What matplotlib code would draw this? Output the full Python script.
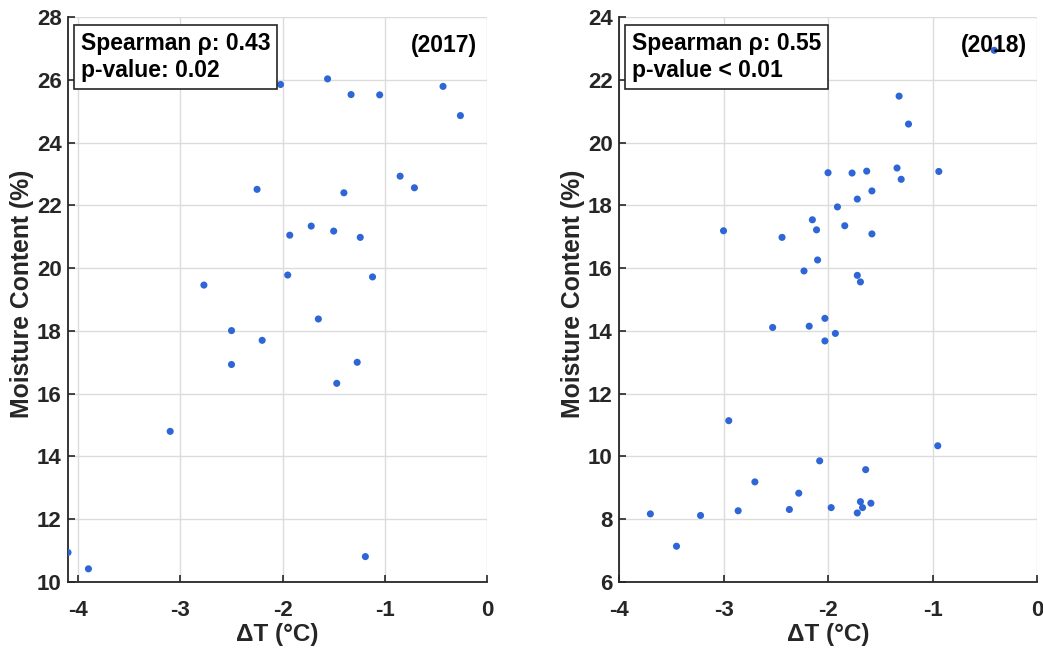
import numpy as np
import matplotlib.pyplot as plt

# 2017 panel
dt_2017 = [-2.02, -1.56, -1.33, -1.05, -0.43, -0.26, -0.85, -0.71, -2.25, -1.40,
           -1.93, -1.72, -1.50, -1.24, -1.95, -1.12, -2.77, -1.65, -2.50, -2.20,
           -2.50, -1.27, -1.47, -3.10, -4.10, -3.90, -1.19]
mc_2017 = [25.85, 26.03, 25.53, 25.52, 25.79, 24.86, 22.93, 22.56, 22.51, 22.40,
           21.05, 21.34, 21.18, 20.98, 19.78, 19.72, 19.46, 18.38, 18.01, 17.70,
           16.93, 17.00, 16.33, 14.80, 10.94, 10.42, 10.81]

# 2018 panel
dt_2018 = [-0.41, -1.32, -1.23, -2.00, -1.77, -1.63, -1.34, -1.30, -0.94, -1.58,
           -1.72, -1.91, -2.15, -1.84, -2.11, -3.00, -1.58, -2.44, -2.10, -2.23,
           -1.72, -1.69, -2.03, -2.53, -2.18, -1.93, -2.03, -2.95, -0.95, -2.08,
           -1.64, -2.70, -2.28, -1.69, -1.59, -1.67, -1.97, -2.37, -2.86, -1.72,
           -3.70, -3.22, -3.45]
mc_2018 = [22.94, 21.48, 20.59, 19.04, 19.03, 19.09, 19.19, 18.83, 19.08, 18.46,
           18.20, 17.95, 17.54, 17.35, 17.22, 17.19, 17.09, 16.98, 16.26, 15.91,
           15.77, 15.56, 14.40, 14.11, 14.15, 13.92, 13.68, 11.14, 10.34, 9.86,
           9.58, 9.19, 8.83, 8.56, 8.51, 8.37, 8.37, 8.31, 8.27, 8.20,
           8.17, 8.12, 7.14]

panels = [
    (dt_2017, mc_2017, (-4.1, 0), (10, 28), "Spearman ρ: 0.43\np-value: 0.02", "(2017)"),
    (dt_2018, mc_2018, (-4, 0), (6, 24), "Spearman ρ: 0.55\np-value < 0.01", "(2018)"),
]

plt.rcParams['font.family'] = ['Liberation Sans', 'DejaVu Sans']
plt.rcParams['font.weight'] = 'bold'
plt.rcParams['axes.unicode_minus'] = False
plt.rcParams['text.color'] = '#262626'
plt.rcParams['axes.labelcolor'] = '#262626'
plt.rcParams['xtick.color'] = '#262626'
plt.rcParams['ytick.color'] = '#262626'

fig = plt.figure(figsize=(10.43, 6.5), dpi=100)
rects = [[0.0652, 0.1046, 0.4017, 0.8692], [0.5935, 0.1046, 0.4008, 0.8692]]

for rect, (x, y, xlim, ylim, stats, year) in zip(rects, panels):
    ax = fig.add_axes(rect)
    ax.scatter(x, y, s=26, color='#2f66d6', edgecolors='none', zorder=3)
    ax.set_xlim(*xlim)
    ax.set_ylim(*ylim)
    ax.set_xticks([-4, -3, -2, -1, 0])
    ax.set_yticks(np.arange(ylim[0], ylim[1] + 1, 2))
    ax.grid(True, color='#dcdcdc', linewidth=1)
    ax.set_axisbelow(True)
    for s in ['top', 'right']:
        ax.spines[s].set_visible(False)
    for s in ['left', 'bottom']:
        ax.spines[s].set_linewidth(1.3)
        ax.spines[s].set_color('#262626')
    ax.tick_params(direction='in', length=5, width=1.2, labelsize=16)
    ax.tick_params(axis='x', pad=13)
    ax.tick_params(axis='y', pad=4.5)
    for lab in ax.get_xticklabels() + ax.get_yticklabels():
        lab.set_fontweight('bold')
    ax.set_xlabel("ΔT (°C)", fontsize=17.5, fontweight='bold', labelpad=1.5)
    ax.set_ylabel("Moisture Content (%)", fontsize=17.8, fontweight='bold', labelpad=2)
    ax.yaxis.label.set_y(0.51)
    ax.text(0.03, 0.974, stats, transform=ax.transAxes, ha='left', va='top',
            fontsize=16.5, fontweight='bold', linespacing=1.25, zorder=5,
            color='black',
            bbox=dict(boxstyle='square,pad=0.3', facecolor='white',
                      edgecolor='#262626', linewidth=1.2))
    ax.text(0.976, 0.95, year, transform=ax.transAxes, ha='right', va='center',
            fontsize=16.5, fontweight='bold', zorder=5, color='black')

fig.savefig("out.png", dpi=100)
